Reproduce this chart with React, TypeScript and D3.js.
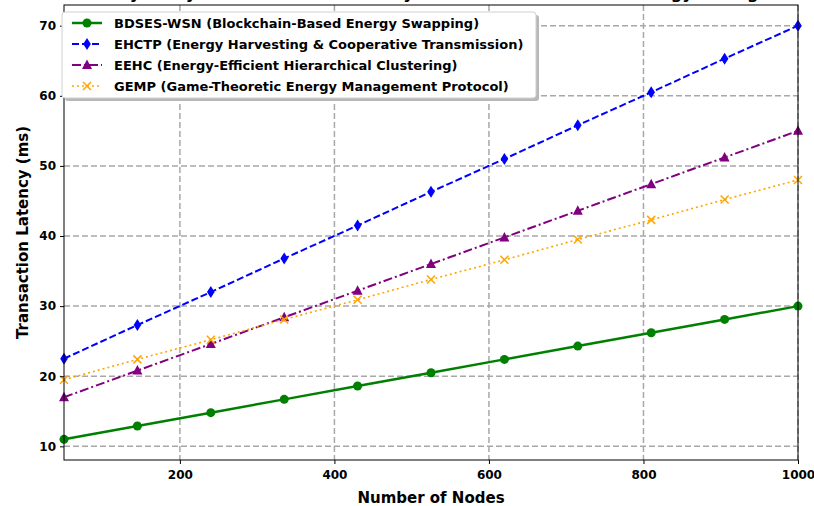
import { useEffect, useRef } from "react"
import * as d3 from "d3"

const nodes = [50, 145, 240, 335, 430, 525, 620, 715, 810, 905, 1000]
const bdses = [11, 12.9, 14.8, 16.7, 18.6, 20.5, 22.4, 24.3, 26.2, 28.1, 30]
const ehctp = [22.5, 27.3, 32, 36.8, 41.5, 46.3, 51, 55.8, 60.5, 65.3, 70]
const eehc = [17, 20.8, 24.6, 28.4, 32.2, 36, 39.8, 43.6, 47.4, 51.2, 55]
const gemp = [19.5, 22.4, 25.2, 28.1, 30.9, 33.8, 36.6, 39.5, 42.3, 45.2, 48]
const xTicks = [200, 400, 600, 800, 1000]
const yTicks = [10, 20, 30, 40, 50, 60, 70]

const series = [
  { name: "BDSES-WSN (Blockchain-Based Energy Swapping)", values: bdses, color: "green", dash: "", marker: "circle", width: 2.5 },
  { name: "EHCTP (Energy Harvesting & Cooperative Transmission)", values: ehctp, color: "blue", dash: "7,3", marker: "diamond", width: 2 },
  { name: "EEHC (Energy-Efficient Hierarchical Clustering)", values: eehc, color: "purple", dash: "9,3,2,3", marker: "triangle", width: 2 },
  { name: "GEMP (Game-Theoretic Energy Management Protocol)", values: gemp, color: "orange", dash: "2,3", marker: "x", width: 1.6 },
]

const W = 814
const H = 506
const M = { left: 64, right: 16, top: 5, bottom: 46 }
const FONT = "DejaVu Sans, sans-serif"

function drawMarker(g, type, x, y, color) {
  if (type === "circle") {
    g.append("circle").attr("cx", x).attr("cy", y).attr("r", 4.5).attr("fill", color)
  } else if (type === "diamond") {
    g.append("path").attr("d", `M${x},${y - 6}L${x + 3.8},${y}L${x},${y + 6}L${x - 3.8},${y}Z`).attr("fill", color)
  } else if (type === "triangle") {
    g.append("path").attr("d", `M${x},${y - 5.5}L${x + 5},${y + 4}L${x - 5},${y + 4}Z`).attr("fill", color)
  } else {
    g.append("path")
      .attr("d", `M${x - 4},${y - 4}L${x + 4},${y + 4}M${x - 4},${y + 4}L${x + 4},${y - 4}`)
      .attr("stroke", color)
      .attr("stroke-width", 1.5)
  }
}

export default function App() {
  const svgRef = useRef(null)

  useEffect(() => {
    const svg = d3.select(svgRef.current)
    svg.selectAll("*").remove()

    const x = d3.scaleLinear().domain([50, 1000]).range([M.left, W - M.right])
    const y = d3.scaleLinear().domain([8.05, 72.95]).range([H - M.bottom, M.top])

    svg.append("rect").attr("width", W).attr("height", H).attr("fill", "white")

    // title, cut off at the top like the reference (only descenders show)
    svg.append("text")
      .attr("x", 431)
      .attr("y", -1)
      .attr("text-anchor", "middle")
      .attr("font-family", FONT)
      .attr("font-weight", "bold")
      .attr("font-size", 16)
      .text("Scalability Analysis: Transaction Latency vs Number of Nodes in Energy Management")

    // grid
    const grid = svg.append("g").attr("stroke", "#a8a8a8").attr("stroke-width", 1.5).attr("stroke-dasharray", "6,3")
    xTicks.forEach((t) => {
      grid.append("line").attr("x1", x(t)).attr("x2", x(t)).attr("y1", M.top).attr("y2", H - M.bottom)
    })
    yTicks.forEach((t) => {
      grid.append("line").attr("x1", M.left).attr("x2", W - M.right).attr("y1", y(t)).attr("y2", y(t))
    })

    // lines
    const line = d3.line().x((d) => x(d[0])).y((d) => y(d[1]))
    series.forEach((s) => {
      const pts = nodes.map((n, i) => [n, s.values[i]])
      svg.append("path")
        .attr("d", line(pts))
        .attr("fill", "none")
        .attr("stroke", s.color)
        .attr("stroke-width", s.width)
        .attr("stroke-dasharray", s.dash || null)
      const mg = svg.append("g")
      pts.forEach((p) => drawMarker(mg, s.marker, x(p[0]), y(p[1]), s.color))
    })

    // frame
    svg.append("rect")
      .attr("x", M.left)
      .attr("y", M.top)
      .attr("width", W - M.right - M.left)
      .attr("height", H - M.bottom - M.top)
      .attr("fill", "none")
      .attr("stroke", "black")
      .attr("stroke-width", 1)

    // axes
    const xAxis = svg.append("g")
      .attr("transform", `translate(0,${H - M.bottom})`)
      .call(d3.axisBottom(x).tickValues(xTicks).tickFormat(d3.format("d")).tickSize(4).tickPadding(4))
    const yAxis = svg.append("g")
      .attr("transform", `translate(${M.left},0)`)
      .call(d3.axisLeft(y).tickValues(yTicks).tickFormat(d3.format("d")).tickSize(4).tickPadding(4))
    ;[xAxis, yAxis].forEach((a) => {
      a.select(".domain").remove()
      a.selectAll("text")
        .attr("font-family", FONT)
        .attr("font-weight", "bold")
        .attr("font-size", 12)
        .attr("fill", "black")
    })
    xAxis.selectAll("text").attr("dy", "0.9em")

    svg.append("text")
      .attr("x", (M.left + W - M.right) / 2)
      .attr("y", 503)
      .attr("text-anchor", "middle")
      .attr("font-family", FONT)
      .attr("font-weight", "bold")
      .attr("font-size", 15)
      .text("Number of Nodes")

    svg.append("text")
      .attr("transform", `translate(28,${(M.top + H - M.bottom) / 2}) rotate(-90)`)
      .attr("text-anchor", "middle")
      .attr("font-family", FONT)
      .attr("font-weight", "bold")
      .attr("font-size", 15)
      .text("Transaction Latency (ms)")

    // legend
    const lg = svg.append("g")
    lg.append("rect").attr("x", 65).attr("y", 15).attr("width", 474).attr("height", 86).attr("rx", 3).attr("fill", "#b8b8b8")
    lg.append("rect").attr("x", 62).attr("y", 12).attr("width", 474).attr("height", 86).attr("rx", 3)
      .attr("fill", "white").attr("stroke", "#d0d0d0")
    series.forEach((s, i) => {
      const ly = 23 + i * 21
      lg.append("line")
        .attr("x1", 72).attr("x2", 102).attr("y1", ly).attr("y2", ly)
        .attr("stroke", s.color)
        .attr("stroke-width", s.width)
        .attr("stroke-dasharray", s.dash || null)
      drawMarker(lg, s.marker, 87, ly, s.color)
      lg.append("text")
        .attr("x", 114)
        .attr("y", ly)
        .attr("dy", "0.35em")
        .attr("font-family", FONT)
        .attr("font-weight", "bold")
        .attr("font-size", 13)
        .text(s.name)
    })
  }, [])

  return (
    <svg ref={svgRef} width={W} height={H} style={{ display: "block", position: "absolute", left: 0, top: 0 }} />
  )
}
